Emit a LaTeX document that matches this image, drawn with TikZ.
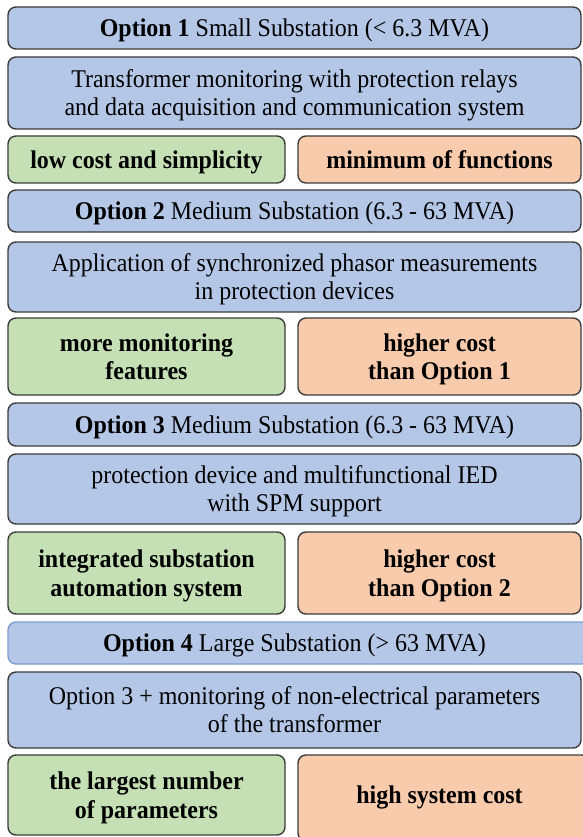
\documentclass[tikz,border=0pt]{standalone}
\usepackage{fontspec}
\setmainfont{Liberation Serif}[FakeStretch=0.94]
\definecolor{bfill}{HTML}{B4C7E7}
\definecolor{gfill}{HTML}{C5E0B4}
\definecolor{ofill}{HTML}{F8CBAD}
\definecolor{edge}{HTML}{3C3C3C}
\definecolor{bedge}{HTML}{7F9ED0}
\begin{document}
\begin{tikzpicture}[x=1pt,y=-1pt,
  box/.style={draw=edge,line width=1.4pt,rounded corners=8pt,inner sep=0pt,align=center,
    text depth=-5pt,font=\fontsize{25.5}{28}\selectfont},
  wide/.style={box,fill=bfill,minimum width=573pt},
  half/.style={box,minimum width=277pt,font=\fontsize{25.5}{28.5}\selectfont\bfseries},
  gbox/.style={half,fill=gfill},
  obox/.style={half,fill=ofill,minimum width=283pt},
  plain/.style={inner sep=0pt,align=center,text depth=-5pt,font=\fontsize{25.5}{28}\selectfont}]
\useasboundingbox (0,0) rectangle (582,837);
% Option 1
\node[wide,minimum height=42pt] (o1) at (294.5,28) {\textbf{Option 1} Small Substation (< 6.3 MVA)};
\node[wide,minimum height=72pt] (d1) at (294.5,93) {Transformer monitoring with protection relays\\and data acquisition and communication system};
\node[gbox,minimum height=47pt] (g1) at (146.5,159.5) {low cost and simplicity};
\node[obox,minimum height=47pt] (r1) at (439.5,159.5) {minimum of functions};
% Option 2
\node[wide,minimum height=42pt] (o2) at (294.5,211) {\textbf{Option 2} Medium Substation (6.3 - 63 MVA)};
\node[wide,minimum height=70pt] (d2) at (294.5,277) {Application of synchronized phasor measurements\\in protection devices};
\node[gbox,minimum height=77pt] (g2) at (146.5,356.5) {more monitoring\\features};
\node[obox,minimum height=77pt] (r2) at (439.5,356.5) {higher cost\\than Option 1};
% Option 3
\node[wide,minimum height=43pt] (o3) at (294.5,424.5) {\textbf{Option 3} Medium Substation (6.3 - 63 MVA)};
\node[wide,minimum height=70pt] (d3) at (294.5,489) {protection device and multifunctional IED\\with SPM support};
\node[gbox,minimum height=82pt] (g3) at (146.5,573) {integrated substation\\automation system};
\node[obox,minimum height=82pt] (r3) at (439.5,573) {higher cost\\than Option 2};
% Option 4
\node[box,fill=bfill,draw=bedge,minimum width=582pt,minimum height=42pt] (o4) at (299,643) {};
\node[plain] (o4t) at (294.5,643) {\textbf{Option 4} Large Substation (> 63 MVA)};
\node[wide,minimum height=76pt] (d4) at (294.5,710) {Option 3 + monitoring of non-electrical parameters\\of the transformer};
\node[gbox,minimum height=80pt] (g4) at (146.5,795) {the largest number\\of parameters};
\node[obox,minimum height=86pt,minimum width=292pt] (r4) at (444,798) {};
\node[plain,font=\fontsize{25.5}{28.5}\selectfont\bfseries] (r4t) at (439.5,795) {high system cost};
\end{tikzpicture}
\end{document}
